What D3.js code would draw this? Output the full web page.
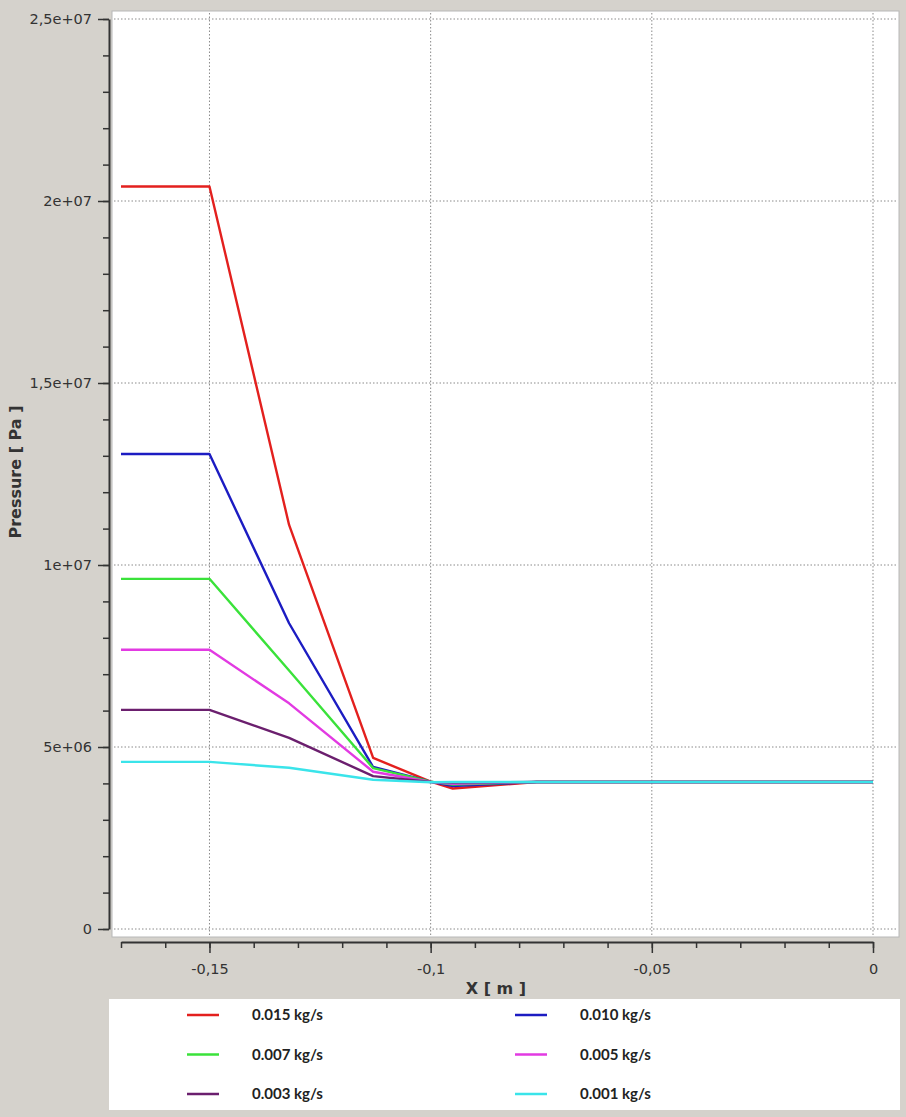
<!DOCTYPE html>
<html>
<head>
<meta charset="utf-8">
<script src="https://cdn.jsdelivr.net/npm/d3@7"></script>
<style>
  body { margin: 0; background: #d5d2cc; }
  svg { display: block; }
</style>
</head>
<body>
<div id="chart"></div>
<script>
// pressure along X for several mass flow rates

// x positions of the profile points [m]
var xValues = [-0.17, -0.15, -0.132, -0.113, -0.1, -0.095, -0.076, 0];

// pressure values [Pa], one array per flow rate
var p015 = [20.4e6, 20.4e6, 11.1e6, 4.7e6, 4.05e6, 3.86e6, 4.04e6, 4.04e6];
var p010 = [13.05e6, 13.05e6, 8.4e6, 4.45e6, 4.05e6, 3.93e6, 4.04e6, 4.04e6];
var p007 = [9.62e6, 9.62e6, 7.1e6, 4.42e6, 4.05e6, 3.97e6, 4.04e6, 4.04e6];
var p005 = [7.67e6, 7.67e6, 6.2e6, 4.32e6, 4.04e6, 3.99e6, 4.04e6, 4.04e6];
var p003 = [6.02e6, 6.02e6, 5.25e6, 4.2e6, 4.04e6, 4.02e6, 4.04e6, 4.04e6];
var p001 = [4.59e6, 4.59e6, 4.43e6, 4.1e6, 4.03e6, 4.04e6, 4.04e6, 4.04e6];

var seriesNames = ["0.015 kg/s", "0.010 kg/s", "0.007 kg/s", "0.005 kg/s", "0.003 kg/s", "0.001 kg/s"];
var seriesValues = [p015, p010, p007, p005, p003, p001];
var colors = ["#e3201e", "#1c1cc2", "#3ae23a", "#e23ae2", "#6b1f6e", "#3ae4ea"];

// tick values
var yTicks = [0, 5e6, 1e7, 1.5e7, 2e7, 2.5e7];
var xTicks = [-0.15, -0.1, -0.05, 0];

var width = 906;
var height = 1117;

var svg = d3.select("#chart").append("svg")
  .attr("width", width)
  .attr("height", height);

// scales
var x = d3.scaleLinear().domain([-0.17, 0]).range([121, 873]);
var y = d3.scaleLinear().domain([0, 2.5e7]).range([929, 19]);

// plot background
svg.append("rect")
  .attr("x", 112).attr("y", 11)
  .attr("width", 787).attr("height", 926)
  .attr("fill", "white")
  .attr("stroke", "#b8b8b8");

// grid lines (dotted)
svg.append("g").selectAll("line")
  .data(yTicks)
  .enter().append("line")
  .attr("x1", 114).attr("x2", 898)
  .attr("y1", d => y(d)).attr("y2", d => y(d))
  .attr("stroke", "#8a8a8a")
  .attr("stroke-dasharray", "1.5,2");

svg.append("g").selectAll("line")
  .data(xTicks)
  .enter().append("line")
  .attr("x1", d => x(d)).attr("x2", d => x(d))
  .attr("y1", 13).attr("y2", 935)
  .attr("stroke", "#8a8a8a")
  .attr("stroke-dasharray", "1.5,2");

// number formats with comma decimals
function fmtY(v) {
  if (v === 0) return "0";
  var e = Math.floor(Math.log10(v));
  var m = +(v / Math.pow(10, e)).toFixed(2);
  var es = (e < 10 ? "0" : "") + e;
  return String(m).replace(".", ",") + "e+" + es;
}
function fmtX(v) {
  if (v === 0) return "0";
  return String(+v.toFixed(2)).replace(".", ",");
}

// y axis: minor then major
var yMinor = d3.range(0, 2.5e7 + 1, 1e6);
svg.append("g")
  .attr("transform", "translate(109,0)")
  .call(d3.axisLeft(y).tickValues(yMinor).tickSize(6).tickFormat(""))
  .call(g => g.select(".domain").remove())
  .selectAll("line").attr("stroke", "#333").attr("stroke-width", 1.5);

var yAxis = svg.append("g")
  .attr("transform", "translate(109,0)")
  .call(d3.axisLeft(y).tickValues(yTicks).tickSize(11).tickSizeOuter(0).tickPadding(6).tickFormat(fmtY));
yAxis.select(".domain").attr("stroke", "#333").attr("stroke-width", 2);
yAxis.selectAll("line").attr("stroke", "#333").attr("stroke-width", 1.5);
yAxis.selectAll("text")
  .attr("font-family", "DejaVu Sans, Verdana, sans-serif")
  .attr("font-size", 14.5)
  .attr("fill", "#333");

// x axis: minor then major
var xMinor = d3.range(-17, 1, 1).map(d => d / 100);
svg.append("g")
  .attr("transform", "translate(0,942)")
  .call(d3.axisBottom(x).tickValues(xMinor).tickSize(6).tickFormat(""))
  .call(g => g.select(".domain").remove())
  .selectAll("line").attr("stroke", "#333").attr("stroke-width", 1.5);

var xAxis = svg.append("g")
  .attr("transform", "translate(0,942)")
  .call(d3.axisBottom(x).tickValues(xTicks).tickSize(11).tickSizeOuter(0).tickPadding(11).tickFormat(fmtX));
xAxis.select(".domain").attr("stroke", "#333").attr("stroke-width", 2);
xAxis.selectAll("line").attr("stroke", "#333").attr("stroke-width", 1.5);
xAxis.selectAll("text")
  .attr("font-family", "DejaVu Sans, Verdana, sans-serif")
  .attr("font-size", 14.5)
  .attr("fill", "#333");

// axis titles
svg.append("text")
  .attr("x", 496).attr("y", 994)
  .attr("text-anchor", "middle")
  .attr("font-family", "DejaVu Sans, Verdana, sans-serif")
  .attr("font-weight", "bold")
  .attr("font-size", 16)
  .attr("fill", "#333")
  .text("X [ m ]");

svg.append("text")
  .attr("transform", "translate(21,472) rotate(-90)")
  .attr("text-anchor", "middle")
  .attr("font-family", "DejaVu Sans, Verdana, sans-serif")
  .attr("font-weight", "bold")
  .attr("font-size", 16)
  .attr("fill", "#333")
  .text("Pressure [ Pa ]");

// lines
var line = d3.line()
  .x((d, i) => x(xValues[i]))
  .y(d => y(d));

svg.append("g").selectAll("path")
  .data(seriesValues)
  .enter().append("path")
  .attr("d", d => line(d))
  .attr("fill", "none")
  .attr("stroke", (d, i) => colors[i])
  .attr("stroke-width", 2.4)
  .attr("stroke-linejoin", "round");

// legend box
svg.append("rect")
  .attr("x", 109).attr("y", 999)
  .attr("width", 791).attr("height", 111)
  .attr("fill", "white");

var legend = svg.append("g").selectAll("g")
  .data(seriesNames)
  .enter().append("g")
  .attr("transform", (d, i) => "translate(" + (i % 2 === 0 ? 187 : 515) + "," + (1015 + Math.floor(i / 2) * 39.5) + ")");

legend.append("line")
  .attr("x1", 0).attr("x2", 32)
  .attr("stroke", (d, i) => colors[i])
  .attr("stroke-width", 2.5);

legend.append("text")
  .attr("x", 65).attr("y", 5)
  .attr("font-family", "Lato, Open Sans, sans-serif")
  .attr("font-weight", "bold")
  .attr("font-size", 15)
  .attr("fill", "#222")
  .text(d => d);
</script>
</body>
</html>
